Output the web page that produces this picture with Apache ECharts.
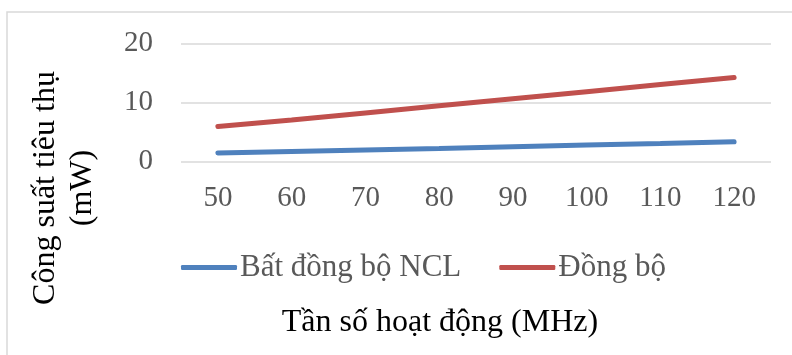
<!DOCTYPE html>
<html><head><meta charset="utf-8">
<script src="https://cdn.jsdelivr.net/npm/echarts@6/dist/echarts.min.js"></script>
<style>html,body{margin:0;padding:0;background:#fff}#c{width:792px;height:355px}</style>
</head><body><div id="c"></div>
<script>
const categories = ['50','60','70','80','90','100','110','120'];
const seriesNames = ['Bất đồng bộ NCL','Đồng bộ'];
const asyncNCL = [1.4, 1.65, 1.9, 2.15, 2.45, 2.75, 3.0, 3.3];
const syncVals = [5.9, 7.0, 8.2, 9.4, 10.6, 11.8, 13.0, 14.2];
const yTitle = 'Công suất tiêu thụ\n(mW)';
const xTitle = 'Tần số hoạt động (MHz)';
const FONT = '"Liberation Serif", "Times New Roman", serif';

const chart = echarts.init(document.getElementById('c'));
chart.setOption({
  animation: false,
  backgroundColor: '#fff',
  grid: {left: 181, right: 21, top: 43.3, bottom: 193.7, containLabel: false},
  xAxis: {
    type: 'category', data: categories, boundaryGap: true,
    axisLine: {show: false}, axisTick: {show: false},
    axisLabel: {color: '#595959', fontFamily: FONT, fontSize: 29, margin: 23}
  },
  yAxis: {
    type: 'value', min: 0, max: 20, interval: 10,
    axisLine: {show: false}, axisTick: {show: false},
    axisLabel: {color: '#595959', fontFamily: FONT, fontSize: 29, margin: 28},
    splitLine: {lineStyle: {color: '#d9d9d9', width: 1.5}}
  },
  legend: {
    data: seriesNames, left: 176, top: 247,
    itemWidth: 56, itemHeight: 5, itemGap: 38, icon: 'roundRect',
    textStyle: {color: '#595959', fontFamily: FONT, fontSize: 31, padding: [0,0,0,-2]}
  },
  graphic: [
    {type: 'polyline', shape: {points: [[7,355],[7,12],[792,12]]}, style: {stroke: '#d9d9d9', lineWidth: 1.5, fill: null}},
    {type: 'text', x: 64, y: 188, rotation: Math.PI/2,
     style: {text: yTitle, font: '32px ' + FONT, fill: '#000', align: 'center', verticalAlign: 'middle', lineHeight: 37}},
    {type: 'text', x: 440, y: 323,
     style: {text: xTitle, font: '32px ' + FONT, fill: '#000', align: 'center', verticalAlign: 'middle'}}
  ],
  series: [
    {name: seriesNames[0], type: 'line', data: asyncNCL, showSymbol: false, symbol: 'none',
     lineStyle: {color: '#4f81bd', width: 5, cap: 'round'}, itemStyle: {color: '#4f81bd'}},
    {name: seriesNames[1], type: 'line', data: syncVals, showSymbol: false, symbol: 'none',
     lineStyle: {color: '#c0504d', width: 5, cap: 'round'}, itemStyle: {color: '#c0504d'}}
  ]
});
</script></body></html>
